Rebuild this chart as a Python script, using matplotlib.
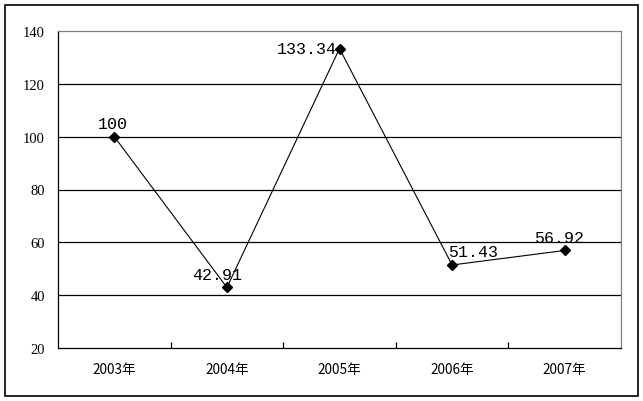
import matplotlib
matplotlib.use("Agg")
import matplotlib.pyplot as plt
from matplotlib.patches import Rectangle

categories = ["2003年", "2004年", "2005年", "2006年", "2007年"]
values = [100, 42.91, 133.34, 51.43, 56.92]
value_labels = ["100", "42.91", "133.34", "51.43", "56.92"]
yticks = [20, 40, 60, 80, 100, 120, 140]

# label offsets in points (dx, dy) and alignment
offsets = [(-1, 4, "center", "bottom"), (-7, 4, "center", "bottom"),
           (-2, 0, "right", "center"), (-3, 4, "left", "bottom"),
           (-4, 4, "center", "bottom")]

W, H = 643, 402
fig = plt.figure(figsize=(W / 100, H / 100), dpi=100)
fig.patch.set_facecolor("white")
fig.add_artist(Rectangle((5 / W, 5 / H), 633 / W, 391 / H, transform=fig.transFigure,
                         fill=False, edgecolor="black", linewidth=1.2))

ax = fig.add_axes([58 / W, (H - 349) / H, 563 / W, 317 / H])
x = list(range(len(categories)))
ax.set_xlim(-0.5, len(categories) - 0.5)
ax.set_ylim(20, 140)
ax.set_yticks(yticks)
ax.set_yticklabels([str(t) for t in yticks], family=["Liberation Serif"], fontsize=10.5)
for t in yticks[1:-1]:
    ax.axhline(t, color="black", linewidth=0.9, zorder=1)

ax.set_xticks(x)
ax.set_xticklabels(categories, family=["Noto Sans CJK SC", "DejaVu Sans"], fontsize=9.8)
ax.tick_params(axis="x", length=0, pad=10)
ax.set_xticks([i + 0.5 for i in x[:-1]], minor=True)
ax.tick_params(axis="x", which="minor", direction="in", length=4, width=0.9)
ax.tick_params(axis="y", length=0, pad=9.5)

for s in ["top", "right"]:
    ax.spines[s].set_color("#808080")
    ax.spines[s].set_linewidth(0.9)
for s in ["left", "bottom"]:
    ax.spines[s].set_color("black")
    ax.spines[s].set_linewidth(0.9)

ax.plot(x, values, color="black", linewidth=0.8, marker="D", markersize=5,
        markerfacecolor="black", markeredgecolor="black", zorder=3)

for xi, v, lab, (dx, dy, ha, va) in zip(x, values, value_labels, offsets):
    ax.annotate(lab, (xi, v), xytext=(dx, dy), textcoords="offset points",
                ha=ha, va=va, fontsize=12, family=["Liberation Mono"], zorder=4)

fig.savefig("out.png", dpi=100)
